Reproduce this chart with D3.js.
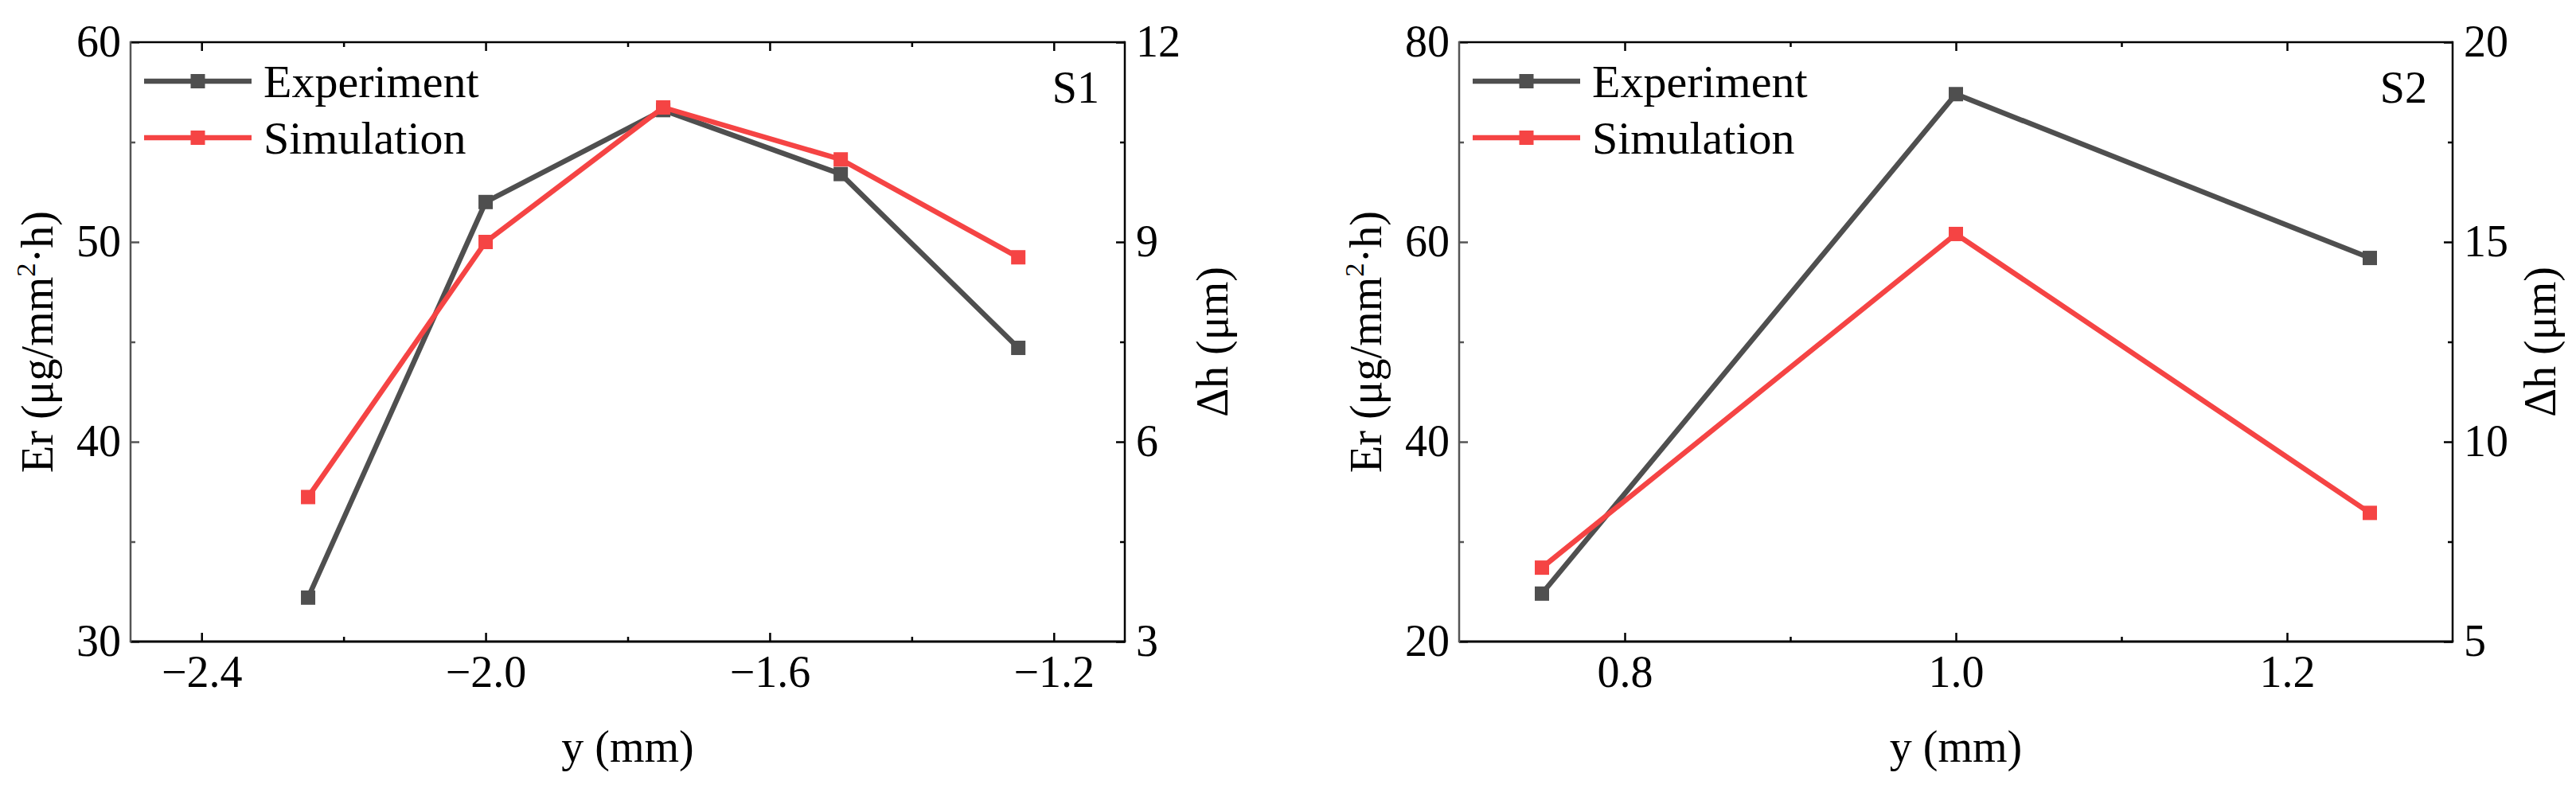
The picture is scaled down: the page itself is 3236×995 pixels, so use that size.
<!DOCTYPE html>
<html>
<head>
<meta charset="utf-8">
<script src="https://cdn.jsdelivr.net/npm/d3@7"></script>
<style>
  body { margin: 0; background: #fff; }
  text { font-family: "Liberation Serif", "Times New Roman", serif; fill: #000; }
</style>
</head>
<body>
<div id="chart"></div>
<script>
// data
const s1Pos = [-2.25, -2.0, -1.75, -1.5, -1.25];
const s1Er  = [32.2, 52.0, 56.6, 53.4, 44.7];   // Experiment, left axis
const s1Dh  = [5.17, 9.0, 11.02, 10.24, 8.77];  // Simulation, right axis

const s2Pos = [0.75, 1.0, 1.25];
const s2Er  = [24.8, 74.8, 58.4];
const s2Dh  = [6.85, 15.2, 8.22];

const s1XTicks = [-2.4, -2.0, -1.6, -1.2], s1XMinor = [-2.2, -1.8, -1.4];
const s1ErTicks = [30, 40, 50, 60], s1ErMinor = [35, 45, 55];
const s1DhTicks = [3, 6, 9, 12], s1DhMinor = [4.5, 7.5, 10.5];

const s2XTicks = [0.8, 1.0, 1.2], s2XMinor = [0.9, 1.1];
const s2ErTicks = [20, 40, 60, 80], s2ErMinor = [30, 50, 70];
const s2DhTicks = [5, 10, 15, 20], s2DhMinor = [7.5, 12.5, 17.5];

const seriesNames = ["Experiment", "Simulation"];
const colors = ["#4f4f4f", "#f54444"];

const W = 3236, H = 995;
const plotTop = 53, plotBottom = 806;

const panels = [
  {tag: "S1", left: 164, right: 1413, xDom: [-2.5, -1.1], erDom: [30, 60], dhDom: [3, 12],
   xT: s1XTicks, xM: s1XMinor, erT: s1ErTicks, erM: s1ErMinor, dhT: s1DhTicks, dhM: s1DhMinor,
   pos: s1Pos, er: s1Er, dh: s1Dh},
  {tag: "S2", left: 1833, right: 3081, xDom: [0.7, 1.3], erDom: [20, 80], dhDom: [5, 20],
   xT: s2XTicks, xM: s2XMinor, erT: s2ErTicks, erM: s2ErMinor, dhT: s2DhTicks, dhM: s2DhMinor,
   pos: s2Pos, er: s2Er, dh: s2Dh}
];

const svg = d3.select("#chart").append("svg")
  .attr("width", W).attr("height", H);
svg.append("rect").attr("width", W).attr("height", H).attr("fill", "#fff");

const fs = 56;
const lineW = 6.5, mk = 18;

panels.forEach(p => {
  const x = d3.scaleLinear().domain(p.xDom).range([p.left, p.right]);
  const yL = d3.scaleLinear().domain(p.erDom).range([plotBottom, plotTop]);
  const yR = d3.scaleLinear().domain(p.dhDom).range([plotBottom, plotTop]);
  const g = svg.append("g");

  // series
  const sets = [
    p.pos.map((v, i) => [x(v), yL(p.er[i])]),
    p.pos.map((v, i) => [x(v), yR(p.dh[i])])
  ];
  sets.forEach((pts, k) => {
    g.append("path").attr("d", d3.line()(pts))
      .attr("fill", "none").attr("stroke", colors[k]).attr("stroke-width", lineW)
      .attr("stroke-linejoin", "miter");
    g.selectAll(null).data(pts).enter().append("rect")
      .attr("x", d => d[0] - mk / 2).attr("y", d => d[1] - mk / 2)
      .attr("width", mk).attr("height", mk).attr("fill", colors[k]);
  });

  // axes, ticks inward
  const styleAxis = (sel, col) => {
    sel.select(".domain").remove();
    sel.selectAll("line").attr("stroke", col || "#000").attr("stroke-width", 2.5);
    sel.selectAll("text").attr("font-size", fs).attr("fill", "#000")
      .attr("font-family", "Liberation Serif");
  };
  g.append("g").attr("transform", `translate(0,${plotBottom})`)
    .call(d3.axisBottom(x).tickValues(p.xT).tickSize(-11).tickPadding(17).tickFormat(d3.format(".1f")))
    .call(styleAxis);
  g.append("g").attr("transform", `translate(0,${plotBottom})`)
    .call(d3.axisBottom(x).tickValues(p.xM).tickSize(-6).tickFormat(""))
    .call(styleAxis);
  g.append("g").attr("transform", `translate(0,${plotTop})`)
    .call(d3.axisTop(x).tickValues(p.xT).tickSize(-11).tickFormat(""))
    .call(styleAxis);
  g.append("g").attr("transform", `translate(0,${plotTop})`)
    .call(d3.axisTop(x).tickValues(p.xM).tickSize(-6).tickFormat(""))
    .call(styleAxis);

  g.append("g").attr("transform", `translate(${p.left},0)`)
    .call(d3.axisLeft(yL).tickValues(p.erT).tickSize(-11).tickPadding(12).tickFormat(d3.format("d")))
    .call(styleAxis, "#555");
  g.append("g").attr("transform", `translate(${p.left},0)`)
    .call(d3.axisLeft(yL).tickValues(p.erM).tickSize(-6).tickFormat(""))
    .call(styleAxis, "#555");

  g.append("g").attr("transform", `translate(${p.right},0)`)
    .call(d3.axisRight(yR).tickValues(p.dhT).tickSize(-11).tickPadding(14).tickFormat(d3.format("d")))
    .call(styleAxis);
  g.append("g").attr("transform", `translate(${p.right},0)`)
    .call(d3.axisRight(yR).tickValues(p.dhM).tickSize(-6).tickFormat(""))
    .call(styleAxis);

  // frame
  const lw = 2.5;
  g.append("line").attr("x1", p.left).attr("x2", p.right).attr("y1", plotTop).attr("y2", plotTop)
    .attr("stroke", "#000").attr("stroke-width", lw);
  g.append("line").attr("x1", p.left).attr("x2", p.right + lw / 2).attr("y1", plotBottom).attr("y2", plotBottom)
    .attr("stroke", "#000").attr("stroke-width", lw + 0.5);
  g.append("line").attr("x1", p.right).attr("x2", p.right).attr("y1", plotTop - lw / 2).attr("y2", plotBottom)
    .attr("stroke", "#000").attr("stroke-width", lw);
  g.append("line").attr("x1", p.left).attr("x2", p.left).attr("y1", plotTop - lw / 2).attr("y2", plotBottom + lw / 2)
    .attr("stroke", "#555").attr("stroke-width", lw);

  // axis titles
  g.append("text").attr("x", (p.left + p.right) / 2).attr("y", plotBottom + 151)
    .attr("text-anchor", "middle").attr("font-size", fs).text("y (mm)");

  const er = g.append("text")
    .attr("transform", `translate(${p.left - 98},${(plotTop + plotBottom) / 2}) rotate(-90)`)
    .attr("text-anchor", "middle").attr("font-size", fs);
  er.append("tspan").text("Er (μg/mm");
  er.append("tspan").attr("font-size", fs * 0.62).attr("dy", -22).text("2");
  er.append("tspan").attr("dy", 22).text("·h)");

  g.append("text")
    .attr("transform", `translate(${p.right + 129},${(plotTop + plotBottom) / 2}) rotate(-90)`)
    .attr("text-anchor", "middle").attr("font-size", fs).text("Δh (μm)");

  g.append("text").attr("x", p.right - 32).attr("y", 129)
    .attr("text-anchor", "end").attr("font-size", fs).text(p.tag);

  // legend
  const lx = p.left + 17;
  [102, 173].forEach((ly, k) => {
    g.append("line").attr("x1", lx).attr("x2", lx + 135).attr("y1", ly).attr("y2", ly)
      .attr("stroke", colors[k]).attr("stroke-width", lineW);
    g.append("rect").attr("x", lx + 67.5 - mk / 2).attr("y", ly - mk / 2)
      .attr("width", mk).attr("height", mk).attr("fill", colors[k]);
    g.append("text").attr("x", lx + 150).attr("y", ly).attr("dy", "0.35em")
      .attr("font-size", 58).text(seriesNames[k]);
  });
});
</script>
</body>
</html>
